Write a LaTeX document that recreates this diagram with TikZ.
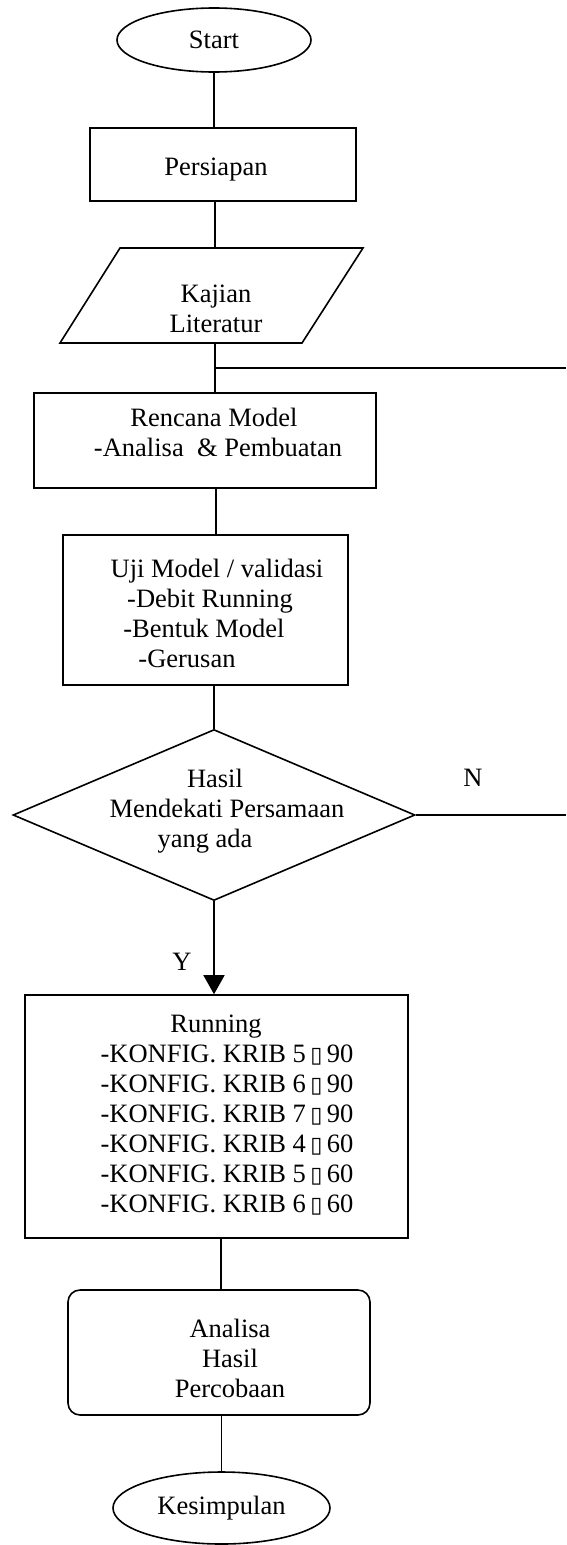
\documentclass[tikz,border=0pt]{standalone}
\usepackage{fontspec}
\setmainfont{Liberation Serif}
\newfontfamily\symfont{DejaVu Sans}
\usetikzlibrary{shapes.geometric,arrows.meta}
\newcommand{\bx}{{\symfont\fontsize{22}{22}\selectfont ▯}}
\begin{document}
\begin{tikzpicture}[x=1pt,y=-1pt,line width=1.6pt,
  every node/.style={font=\fontsize{26.5}{30}\selectfont,inner sep=0pt},
  box/.style={draw,rectangle,inner sep=0pt},
  term/.style={draw,ellipse,inner sep=0pt},
  txt/.style={align=center},
  link/.style={line width=1.5pt}]
\useasboundingbox (0,0) rectangle (566,1545);
% Start
\node[term,minimum width=194pt,minimum height=64pt] (start) at (214,40) {Start};
% Persiapan
\node[box,minimum width=266pt,minimum height=73pt] (pers) at (223,164.5) {};
\node[txt] (persT) at (216,170) {Persiapan};
% Kajian literatur (parallelogram)
\coordinate (kA) at (120,248);
\coordinate (kB) at (363,248);
\coordinate (kC) at (302,343);
\coordinate (kD) at (60,343);
\draw (kA) -- (kB) -- (kC) -- (kD) -- cycle;
\node[txt] (kaj) at (216,309) {Kajian\\Literatur};
\coordinate (kt) at (215,248);
\coordinate (kb) at (215,343);
% Rencana
\node[box,minimum width=342pt,minimum height=95pt] (renc) at (205,440.5) {};
\node[txt] (rencT) at (214,432) {Rencana Model\\\hspace*{8pt}-Analisa\ \ \& Pembuatan};
% Uji
\node[box,minimum width=285pt,minimum height=150pt] (uji) at (205.5,610) {};
\node[txt] (ujiT) at (204,613) {\hspace*{26pt}Uji Model / validasi\\\hspace*{12pt}-Debit Running\\-Bentuk Model\\\hspace*{-34pt}-Gerusan};
% Decision
\node[draw,diamond,minimum width=402pt,minimum height=171pt,inner sep=0pt] (dec) at (214,815) {};
\node[txt] (decT) at (215,811) {Hasil\\\hspace*{24pt}Mendekati Persamaan\\\hspace*{-20pt}yang ada};
\node (N) at (473,778) {N};
\node (Y) at (182,962) {Y};
% Running
\node[box,minimum width=383pt,minimum height=243pt] (run) at (216.5,1116.5) {};
\node[txt] (runT) at (227,1115) {\hspace*{-22pt}Running\\
-KONFIG. KRIB 5\,\bx\,90\\
-KONFIG. KRIB 6\,\bx\,90\\
-KONFIG. KRIB 7\,\bx\,90\\
-KONFIG. KRIB 4\,\bx\,60\\
-KONFIG. KRIB 5\,\bx\,60\\
-KONFIG. KRIB 6\,\bx\,60};
% Analisa
\node[box,rounded corners=12pt,minimum width=302pt,minimum height=125pt] (ana) at (219,1352.5) {};
\node[txt] (anaT) at (230,1358) {Analisa\\Hasil\\Percobaan};
% Kesimpulan
\node[term,minimum width=217pt,minimum height=72pt] (kes) at (221.5,1508) {Kesimpulan};
% connectors
\coordinate (j) at (215,368);
\coordinate (jr) at (566,368);
\coordinate (nr) at (566,815);
\draw[link] (start.south) -- (start.south |- pers.north);
\draw[link] (kt |- pers.south) -- (kt);
\draw[link] (kb) -- (kb |- renc.north);
\draw[link] (j) -- (jr);
\draw[link] ([xshift=11pt]renc.south) -- ([xshift=11pt]renc.south |- uji.north);
\draw[link] ([xshift=8.5pt]uji.south) -- ([xshift=8.5pt]uji.south |- dec.north);
\draw[link] (dec.east) -- (nr);
\draw[link,-{Triangle[width=21pt,length=19pt]}] (dec.south) -- (dec.south |- run.north);
\draw[link] ([xshift=4.5pt]run.south) -- ([xshift=4.5pt]run.south |- ana.north);
\draw[link] (kes.north |- ana.south) -- (kes.north);
\end{tikzpicture}
\end{document}
